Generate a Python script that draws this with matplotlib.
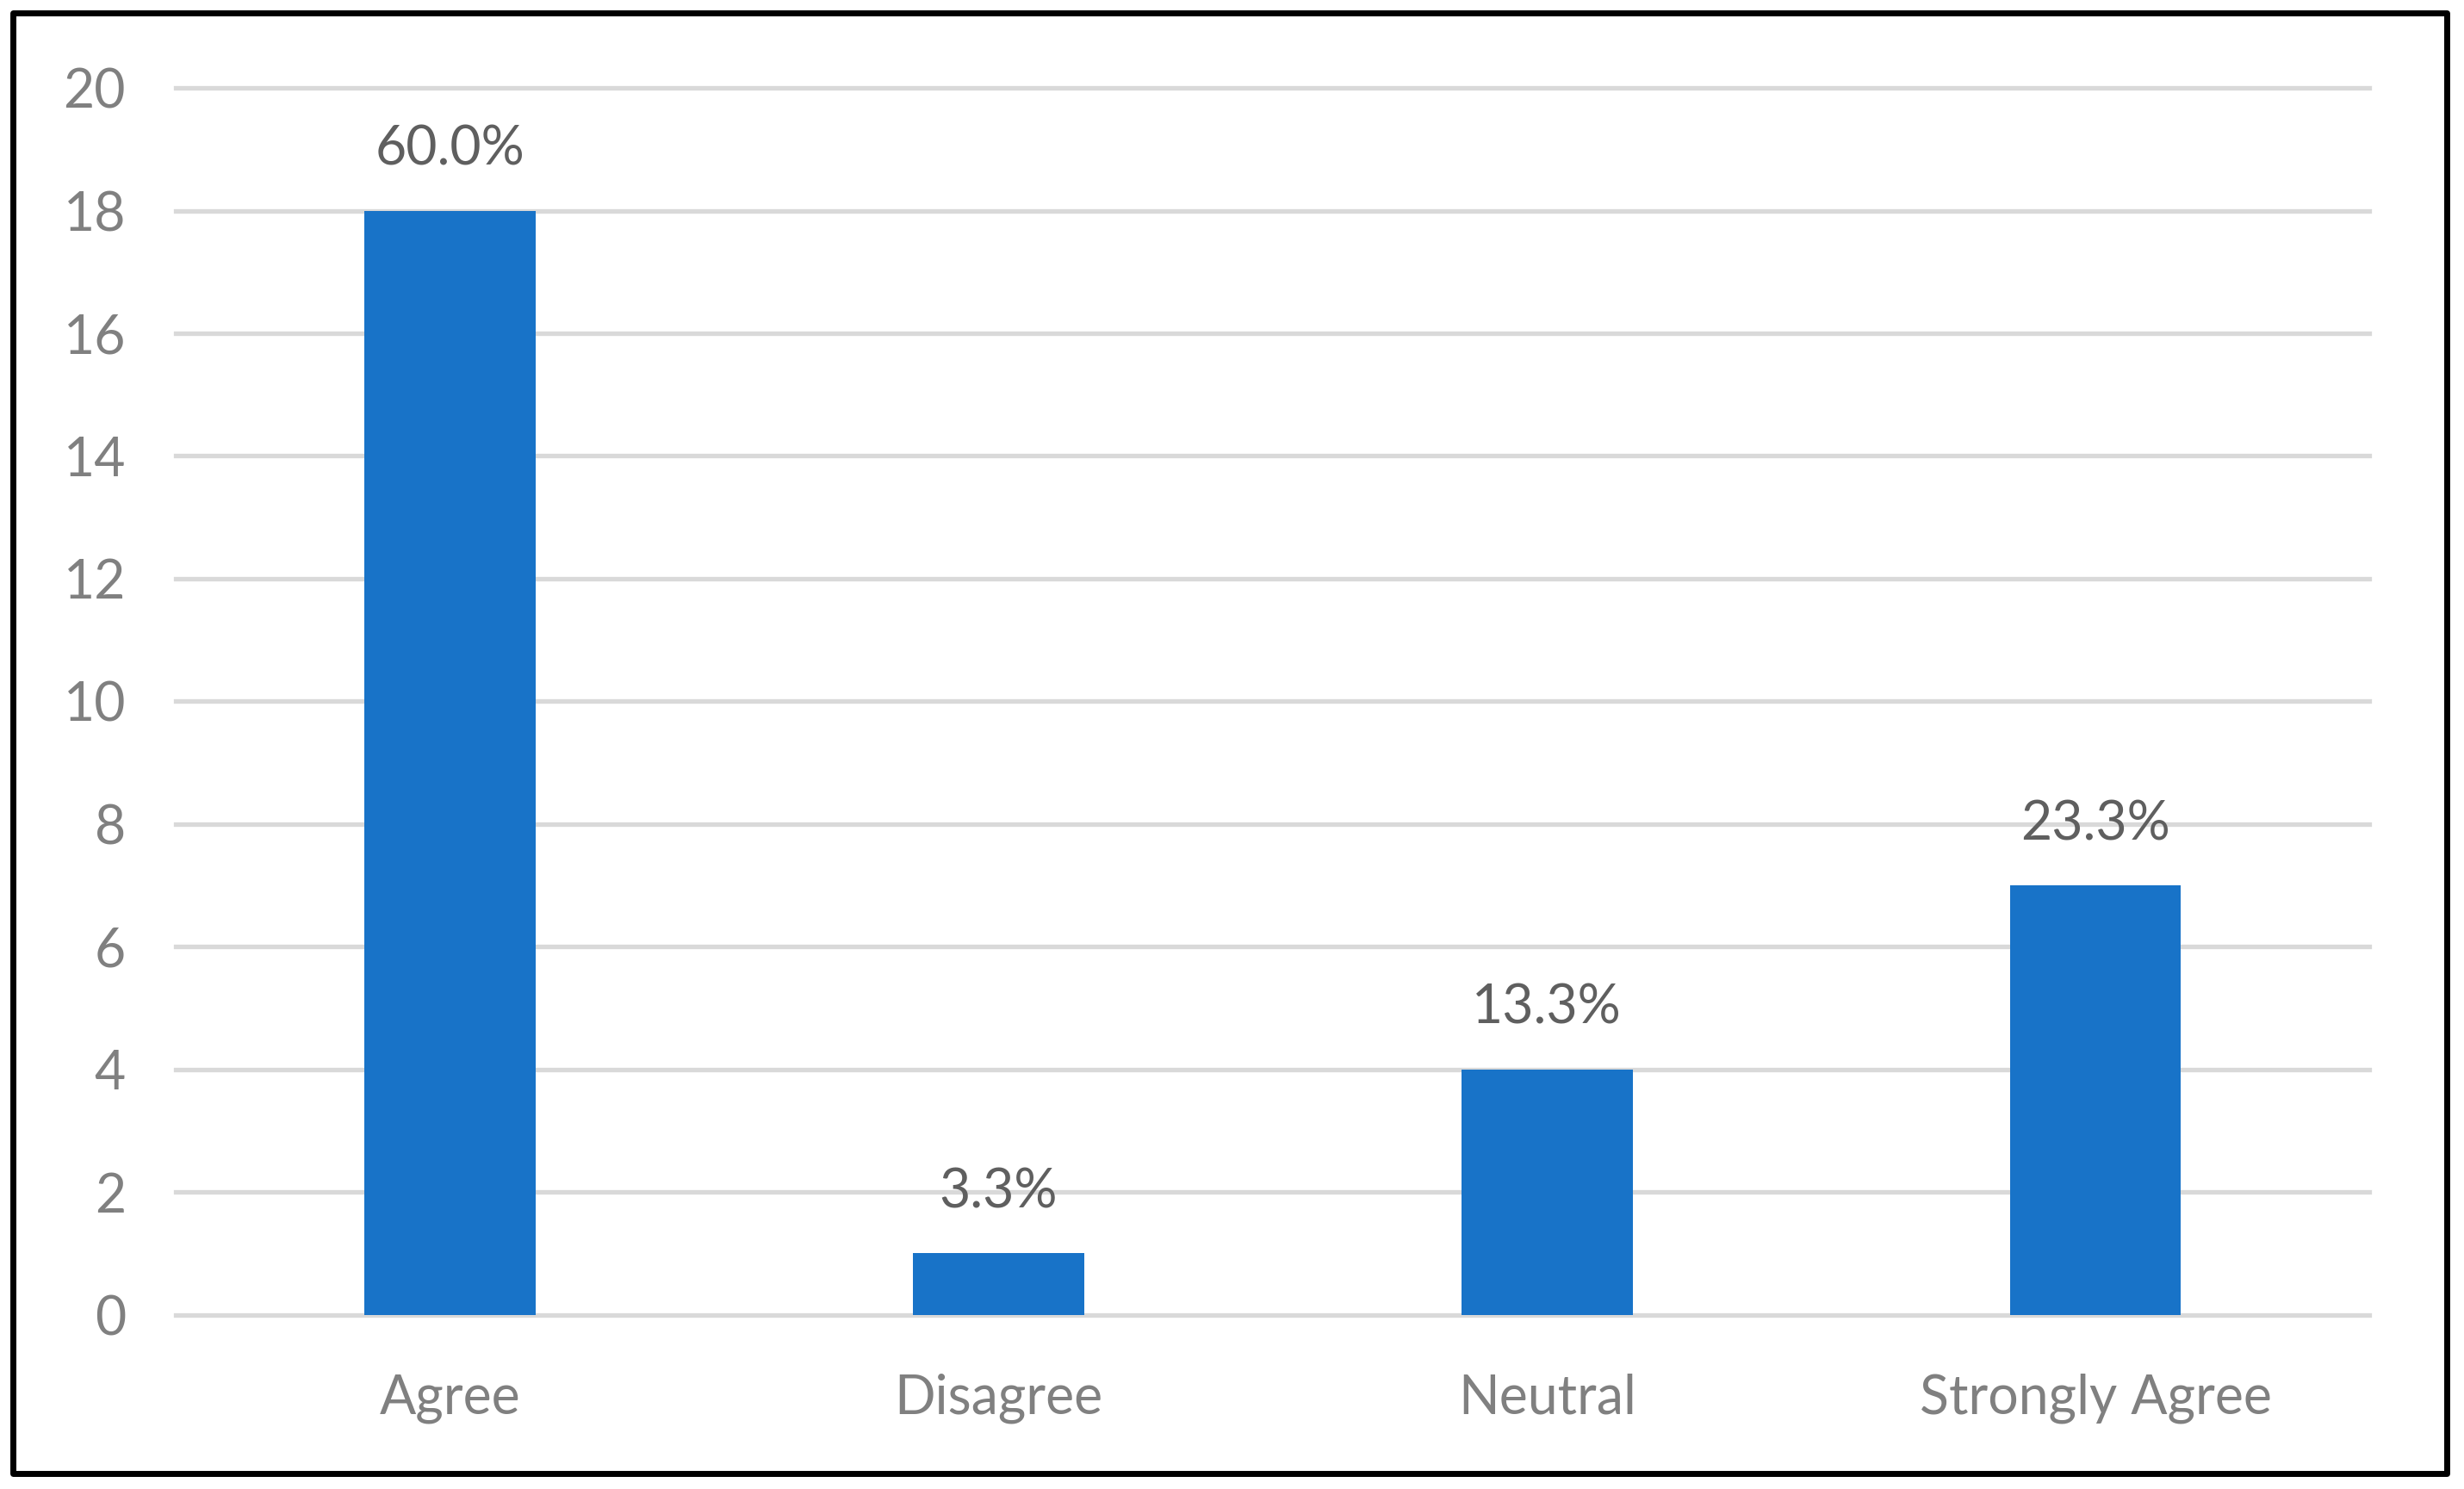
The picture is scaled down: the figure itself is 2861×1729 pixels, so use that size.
import matplotlib
matplotlib.use("Agg")
import matplotlib.pyplot as plt
from matplotlib.patches import Rectangle

# ---------------- DATA ----------------
categories = ["Agree", "Disagree", "Neutral", "Strongly Agree"]
counts = [18, 1, 4, 7]
y_ticks = [0, 2, 4, 6, 8, 10, 12, 14, 16, 18, 20]

BAR_COLOR = "#1873C8"
GRID_COLOR = "#D9D9D9"
TICK_COLOR = "#808080"
LABEL_COLOR = "#5F5F5F"

plt.rcParams["font.family"] = ["Lato", "DejaVu Sans"]

fig = plt.figure(figsize=(28.61, 17.29), dpi=100)
ax = fig.add_axes([0.0714, 0.1171, 0.9617 - 0.0714, 0.9409 - 0.1171])

x = list(range(len(categories)))
ax.bar(x, counts, width=0.312, color=BAR_COLOR, zorder=3)

# percent share above each bar
total = sum(counts)
for xi, c in zip(x, counts):
    ax.annotate(f"{c / total * 100:.1f}%", (xi, c), xytext=(0, 51),
                textcoords="offset points", ha="center", va="center",
                fontsize=45, color=LABEL_COLOR)

ax.set_xlim(-0.5, len(categories) - 0.5)
ax.set_ylim(0, 20)
ax.set_yticks(y_ticks)
ax.set_xticks(x)
ax.set_xticklabels(categories)
ax.grid(axis="y", color=GRID_COLOR, linewidth=3.8, zorder=0)
ax.set_axisbelow(True)
for gl in ax.get_ygridlines():
    gl.set_clip_on(False)          # keep the 0 and 20 lines full width
for s in ax.spines.values():
    s.set_visible(False)
ax.tick_params(axis="both", length=0, labelsize=45, labelcolor=TICK_COLOR)
ax.tick_params(axis="x", pad=49)
ax.tick_params(axis="y", pad=42)

# outer black frame round the whole chart
frame = Rectangle((8 / 1568, 1 - 938 / 948), (1557 - 8) / 1568, (938 - 8) / 948,
                  transform=fig.transFigure, fill=False, edgecolor="black",
                  linewidth=5, joinstyle="round")
fig.patches.append(frame)

fig.savefig("out.png", dpi=100, facecolor="white")
